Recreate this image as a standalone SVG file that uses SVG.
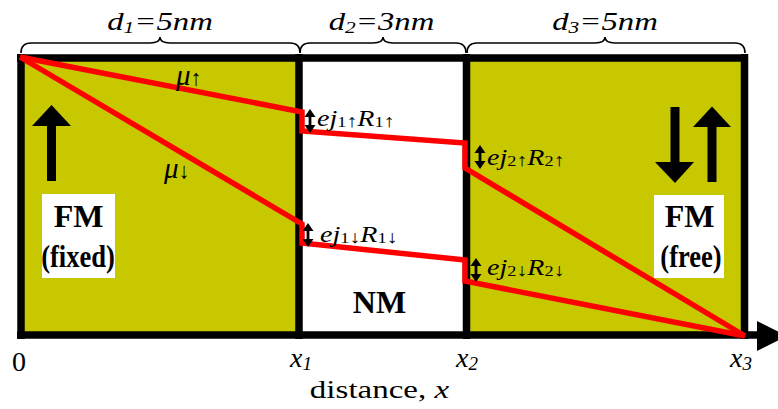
<svg xmlns="http://www.w3.org/2000/svg" width="778" height="409" viewBox="0 0 778 409">
<defs>
<style>
.fm{fill:#C8C800}
.nmf{fill:#FFFFFF}
.ln{fill:none;stroke:#000;stroke-width:7.5}
.brace{fill:none;stroke:#000;stroke-width:1.6}
.red{fill:none;stroke:#FF0000;stroke-width:5.5;stroke-linejoin:miter}
.t{font-family:"Liberation Serif","Times New Roman",serif;fill:#000}
.it{font-style:italic}
.up{font-style:normal}
.b{font-weight:bold}
.box{fill:#FFFFFF}
</style>
<g id="dbl">
<path d="M0,5 V19" stroke="#000" stroke-width="2.8"/>
<polygon points="-5.5,8 0,0 5.5,8"/>
<polygon points="-5.5,16 0,24 5.5,16"/>
</g>
</defs>
<rect width="778" height="409" fill="#FFFFFF"/>
<g id="fm-fixed-region"><rect class="fm" x="21" y="58" width="278" height="277"/></g>
<g id="nm-region"><rect class="nmf" x="299" y="58" width="167.5" height="277"/></g>
<g id="fm-free-region"><rect class="fm" x="466.5" y="58" width="278" height="277"/></g>
<g id="frame">
<path class="ln" d="M17,58 H748"/>
<path class="ln" d="M21,54 V339"/>
<path class="ln" d="M299,54 V339"/>
<path class="ln" d="M466.5,54 V339"/>
<path class="ln" d="M744.5,54 V339"/>
<path class="ln" d="M17,335 H760"/>
<polygon points="757,321 787,336 757,351" fill="#000"/>
</g>
<g id="braces">
<path class="brace" d="M21,53 Q21,43 31,43 H150 Q160,43 160,37 Q160,43 170,43 H290 Q300,43 300,53"/>
<path class="brace" d="M300,53 Q300,43 310,43 H373 Q383,43 383,37 Q383,43 393,43 H456 Q466,43 466,53"/>
<path class="brace" d="M467,53 Q467,43 477,43 H595 Q605,43 605,37 Q605,43 615,43 H735 Q745,43 745,53"/>
<text class="t it" font-size="26" text-anchor="middle" transform="translate(160,30) scale(1.26,1)">d<tspan font-size="17" dy="3">1</tspan><tspan dy="-3">=5nm</tspan></text>
<text class="t it" font-size="26" text-anchor="middle" transform="translate(381.5,30) scale(1.26,1)">d<tspan font-size="17" dy="3">2</tspan><tspan dy="-3">=3nm</tspan></text>
<text class="t it" font-size="26" text-anchor="middle" transform="translate(605,30) scale(1.26,1)">d<tspan font-size="17" dy="3">3</tspan><tspan dy="-3">=5nm</tspan></text>
</g>
<g id="connectors">
<path class="red" d="M20,57 L302,112 L302,131 L465,143 L465,168 L745,336"/>
<path class="red" d="M20,57 L302,224 L302,243 L465,260 L465,281 L745,336"/>
<use href="#dbl" x="310" y="109"/>
<use href="#dbl" x="480" y="145"/>
<use href="#dbl" x="308" y="223"/>
<use href="#dbl" x="476" y="258"/>
</g>
<g id="labels-mu">
<text class="t it" font-size="29" x="176" y="85">μ<tspan class="up" font-size="22">↑</tspan></text>
<text class="t it" font-size="29" x="164" y="178">μ<tspan class="up" font-size="22">↓</tspan></text>
</g>
<g id="labels-ej">
<text class="t" font-size="23" transform="translate(317,126) scale(1.22,1)"><tspan class="it">ej</tspan><tspan font-size="15" dy="1">1</tspan><tspan font-size="18">↑</tspan><tspan class="it" dy="-1">R</tspan><tspan font-size="15" dy="1">1</tspan><tspan font-size="18">↑</tspan></text>
<text class="t" font-size="23" transform="translate(487,165) scale(1.22,1)"><tspan class="it">ej</tspan><tspan font-size="15" dy="1">2</tspan><tspan font-size="18">↑</tspan><tspan class="it" dy="-1">R</tspan><tspan font-size="15" dy="1">2</tspan><tspan font-size="18">↑</tspan></text>
<text class="t" font-size="23" transform="translate(320,242) scale(1.22,1)"><tspan class="it">ej</tspan><tspan font-size="15" dy="1">1</tspan><tspan font-size="18">↓</tspan><tspan class="it" dy="-1">R</tspan><tspan font-size="15" dy="1">1</tspan><tspan font-size="18">↓</tspan></text>
<text class="t" font-size="23" transform="translate(487,275) scale(1.22,1)"><tspan class="it">ej</tspan><tspan font-size="15" dy="1">2</tspan><tspan font-size="18">↓</tspan><tspan class="it" dy="-1">R</tspan><tspan font-size="15" dy="1">2</tspan><tspan font-size="18">↓</tspan></text>
</g>
<g id="fm-fixed">
<polygon points="32,126 51.5,105 71,126" fill="#000"/>
<rect x="47" y="125" width="9" height="56" fill="#000"/>
<rect class="box" x="42" y="194" width="73" height="84"/>
<text class="t b" font-size="32" x="78.5" y="227" text-anchor="middle">FM</text>
<text class="t b" font-size="32" text-anchor="middle" transform="translate(78,267) scale(0.83,1)">(fixed)</text>
</g>
<g id="nm">
<text class="t b" font-size="32" x="379.5" y="313" text-anchor="middle">NM</text>
</g>
<g id="fm-free">
<rect x="670.5" y="107" width="9" height="56" fill="#000"/>
<polygon points="655,162 675,183 694,162" fill="#000"/>
<polygon points="693,127 712,106.5 731,127" fill="#000"/>
<rect x="707.5" y="126" width="9" height="56" fill="#000"/>
<rect class="box" x="654" y="195" width="70" height="83"/>
<text class="t b" font-size="32" x="689.5" y="227" text-anchor="middle">FM</text>
<text class="t b" font-size="32" text-anchor="middle" transform="translate(691,267) scale(0.83,1)">(free)</text>
</g>
<g id="axis-labels">
<text class="t" font-size="28" x="19" y="371" text-anchor="middle">0</text>
<text class="t it" font-size="28" x="290" y="367">x<tspan font-size="19" dy="3">1</tspan></text>
<text class="t it" font-size="28" x="456" y="367">x<tspan font-size="19" dy="3">2</tspan></text>
<text class="t it" font-size="28" x="730" y="367">x<tspan font-size="19" dy="3">3</tspan></text>
<text class="t" font-size="26" text-anchor="middle" transform="translate(379.5,398) scale(1.27,1)">distance, <tspan class="it">x</tspan></text>
</g>
</svg>
